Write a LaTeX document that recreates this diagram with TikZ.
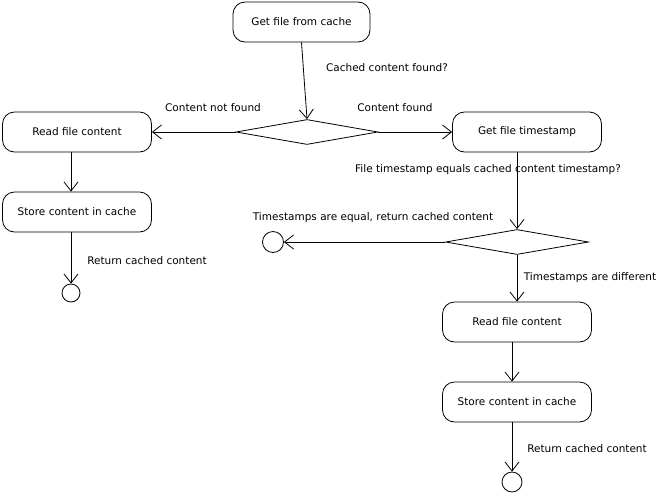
\documentclass[tikz,border=0pt]{standalone}
\usepackage{fontspec}
\setmainfont{DejaVu Sans}
\usetikzlibrary{shapes.geometric,arrows.meta}

\begin{document}
\begin{tikzpicture}[x=1pt,y=-1pt,line width=0.8pt,
  every node/.style={font=\fontsize{10.5}{12}\selectfont},
  action/.style={draw, rounded corners=12pt, minimum width=149pt, minimum height=40pt, inner sep=0pt},
  choice/.style={draw, diamond, minimum width=142pt, minimum height=25pt, inner sep=0pt},
  final/.style={draw, circle, minimum size=20pt, inner sep=0pt},
  flow/.style={-{Straight Barb[length=9pt,width=14pt]}}]
\useasboundingbox (0,0) rectangle (671,496);

% left branch
\node[action, minimum width=137pt] (getcache) at (301.5,22) {Get file from cache};
\node[choice] (found) at (307,132) {};
\node[action] (readL) at (77,132) {Read file content};
\node[action] (storeL) at (77,212) {Store content in cache};
\node[final, minimum size=18pt] (endL) at (71,293) {};

% right branch
\node[action] (stamp) at (527,132) {Get file timestamp};
\node[choice, minimum width=143pt] (same) at (517,242) {};
\node[final, minimum size=21pt] (endM) at (273,242) {};
\node[action] (readR) at (517,322) {Read file content};
\node[action] (storeR) at (517,402) {Store content in cache};
\node[final] (endR) at (512,482) {};

% labels
\node (qfound) at (387,68) {Cached content found?};
\node (notfound) at (213,108) {Content not found};
\node (isfound) at (395,108) {Content found};
\node (qsame) at (488,170) {File timestamp equals cached content timestamp?};
\node (equal) at (373,218) {Timestamps are equal, return cached content};
\node (differ) at (590,278) {Timestamps are different};
\node (retL) at (147,261) {Return cached content};
\node (retR) at (587,449) {Return cached content};

\draw[flow] (getcache.south) -- (found.north);
\draw[flow] (found.west) -- (readL.east);
\draw[flow] (found.east) -- (stamp.west);
\draw[flow] (readL.south -| endL) -- (storeL.north -| endL);
\draw[flow] (storeL.south -| endL) -- (endL.north);
\draw[flow] (stamp.south -| same.north) -- (same.north);
\draw[flow] (same.west) -- (endM.east);
\draw[flow] (same.south) -- (readR.north);
\draw[flow] (readR.south -| endR) -- (storeR.north -| endR);
\draw[flow] (storeR.south -| endR) -- (endR.north);
\end{tikzpicture}
\end{document}
